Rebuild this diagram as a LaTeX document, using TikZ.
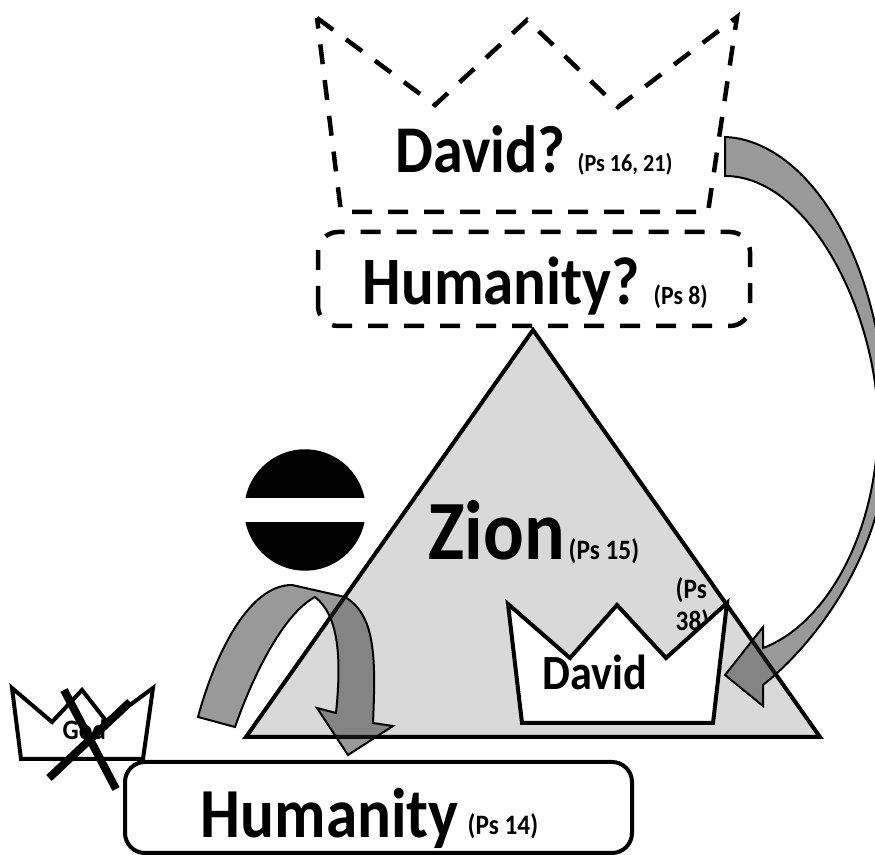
\documentclass[tikz,border=0pt]{standalone}
\usepackage{fontspec}
\setmainfont{Carlito}[FakeStretch=0.9]
\usetikzlibrary{calc}
\tikzset{
	outline/.style={line width=0.4mm, color=black},
	dashline/.style={line width=0.45mm, dash pattern=on 2mm off 1.6mm},
	bigtext/.style={inner sep=0, anchor=base west, font=\bfseries\fontsize{19}{23}\selectfont},
	smalltext/.style={inner sep=0, anchor=base west, font=\bfseries\fontsize{8}{10}\selectfont},
	bendarrow/.style={draw=black, line width=0.2mm, fill=black!85, fill opacity=0.47}
}

\begin{document}
\begin{tikzpicture}
	%%%%% START %%%%%
	\useasboundingbox (0, 0) rectangle (8.75, 8.55);

	\draw[dashline] (3.17, 8.37) -- (4.35, 7.50) -- (5.27, 8.35) -- (6.18, 7.48) -- (7.37, 8.38) -- (7.08, 6.43) -- (3.41, 6.43) -- cycle;
	\node[bigtext] (davidq) at (3.95, 6.82) {David?};
	\node[smalltext, font=\bfseries\fontsize{7}{9}\selectfont] (davidqref) at (5.77, 6.83) {(Ps 16, 21)};

	\draw[dashline, rounded corners=0.2cm] (3.18, 5.29) rectangle (7.50, 6.23);
	\node[bigtext, font=\bfseries\fontsize{19.3}{23}\selectfont] (humanityq) at (3.62, 5.50) {Humanity?};
	\node[smalltext, font=\bfseries\fontsize{7.5}{9}\selectfont] (humanityqref) at (6.53, 5.50) {(Ps 8)};

	\draw[outline, fill=black!15] (5.33, 5.25) -- (2.46, 1.18) -- (8.20, 1.18) -- cycle;
	\node[bigtext, font=\bfseries\fontsize{24}{28}\selectfont] (zion) at (4.28, 2.95) {Zion};
	\node[smalltext] (zionref) at (5.68, 2.95) {(Ps 15)};

	\draw[fill=black] (3.05, 3.45) circle (0.60);
	\fill[white] (2.44, 3.33) rectangle (3.66, 3.57);

	\node[smalltext, anchor=west, align=left, font=\bfseries\fontsize{8}{9.2}\selectfont] (davidref) at (6.75, 2.49) {(Ps\\38)};
	\draw[outline, fill=white] (5.08, 2.51) -- (5.70, 1.97) -- (6.17, 2.50) -- (6.66, 1.97) -- (7.27, 2.52) -- (7.13, 1.32) -- (5.22, 1.32) -- cycle;
	\node[bigtext, font=\bfseries\fontsize{14}{17}\selectfont] (david) at (5.42, 1.65) {David};

	\draw[outline, fill=white] (0.12, 1.67) -- (0.52, 1.33) -- (0.82, 1.65) -- (1.07, 1.33) -- (1.53, 1.67) -- (1.43, 0.96) -- (0.21, 0.96) -- cycle;
	\node[smalltext] (god) at (0.62, 1.15) {God};
	\draw[line width=0.8mm] (0.64, 1.65) -- (1.16, 0.66);
	\draw[line width=0.8mm] (0.49, 0.77) -- (1.30, 1.53);

	\draw[outline, fill=white, rounded corners=0.2cm] (1.25, 0.02) rectangle (6.32, 0.93);
	\node[bigtext, font=\bfseries\fontsize{20}{24}\selectfont] (humanity) at (2.00, 0.17) {Humanity};
	\node[smalltext] (humanityref) at (4.67, 0.20) {(Ps 14)};

	\draw[bendarrow] (1.98, 1.38) .. controls (2.12, 1.90) and (2.45, 2.70) .. (2.92, 2.70) -- (3.45, 2.58) .. controls (3.75, 2.40) and (3.76, 2.00) .. (3.73, 1.32) -- (3.93, 1.29) -- (3.48, 1.00) -- (3.17, 1.47) -- (3.36, 1.42) .. controls (3.42, 2.00) and (3.38, 2.40) .. (3.15, 2.58) .. controls (2.85, 2.42) and (2.55, 1.85) .. (2.35, 1.28) -- cycle;

	\draw[bendarrow] (7.25, 7.18) .. controls (8.05, 7.15) and (8.87, 6.00) .. (8.87, 4.15) .. controls (8.87, 3.10) and (8.20, 2.15) .. (7.63, 1.70) -- (7.63, 1.49) -- (7.25, 1.80) -- (7.63, 2.28) -- (7.63, 2.07) .. controls (8.25, 2.30) and (8.77, 3.20) .. (8.78, 4.30) .. controls (8.78, 5.40) and (8.10, 6.79) .. (7.25, 6.79) -- cycle;

	%%%%% END %%%%%
\end{tikzpicture}
\end{document}
